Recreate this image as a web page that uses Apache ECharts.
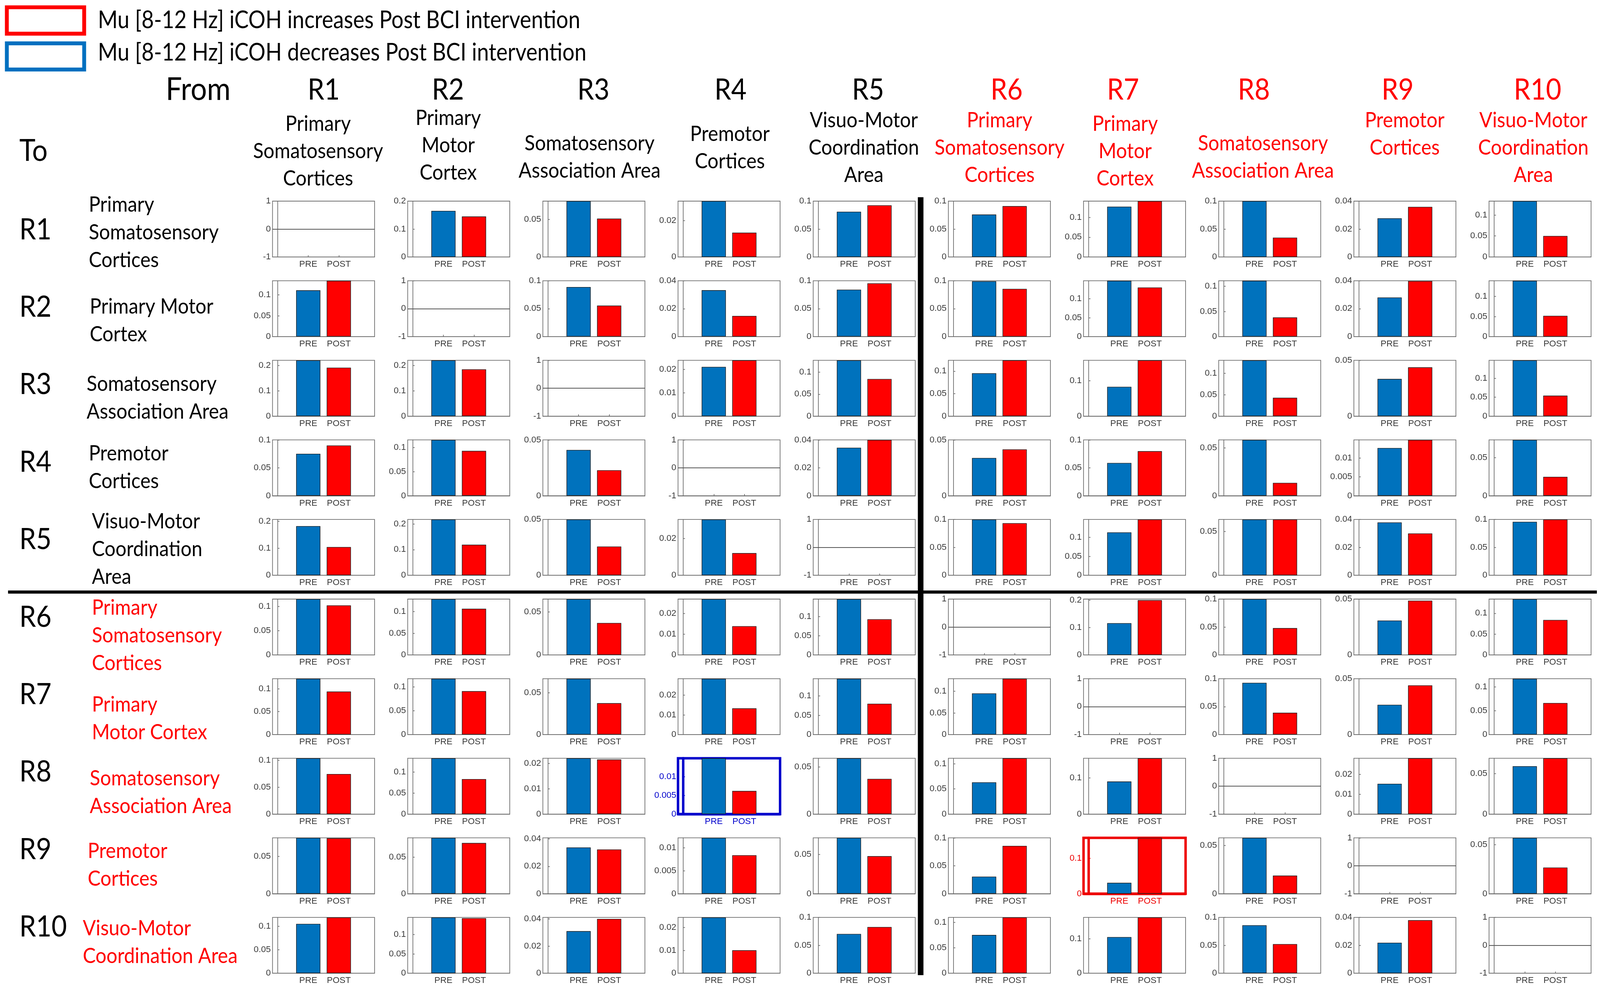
<!DOCTYPE html>
<html style="height:100%;width:100%">
<head>
<meta charset="utf-8">
<style>
html, body { margin: 0; padding: 0; width: 100%; height: 100%; background: #fff; overflow: hidden; }
#chart-panel { width: 100%; height: 100%; }
</style>
<script src="https://cdn.jsdelivr.net/npm/echarts@6/dist/echarts.min.js"></script>
</head>
<body>
<div id="chart-panel"></div>
<script type="text/javascript">
// ---- data ----
var regions = ['R1', 'R2', 'R3', 'R4', 'R5', 'R6', 'R7', 'R8', 'R9', 'R10'];
var colNames = [
  'Primary\nSomatosensory\nCortices', 'Primary\nMotor\nCortex', 'Somatosensory\nAssociation Area',
  'Premotor\nCortices', 'Visuo-Motor\nCoordination\nArea', 'Primary\nSomatosensory\nCortices',
  'Primary\nMotor\nCortex', 'Somatosensory\nAssociation Area', 'Premotor\nCortices',
  'Visuo-Motor\nCoordination\nArea'
];
var rowNames = [
  'Primary\nSomatosensory\nCortices', 'Primary Motor\nCortex', 'Somatosensory\nAssociation Area',
  'Premotor\nCortices', 'Visuo-Motor\nCoordination\nArea', 'Primary\nSomatosensory\nCortices',
  'Primary\nMotor Cortex', 'Somatosensory\nAssociation Area', 'Premotor\nCortices',
  'Visuo-Motor\nCoordination Area'
];
var barLabels = ['PRE', 'POST'];
var legendTexts = ['Mu [8-12 Hz] iCOH increases Post BCI intervention',
                   'Mu [8-12 Hz] iCOH decreases Post BCI intervention'];

// rows = "To" region, columns = "From" region, null = diagonal (no bars)
var preVals = [
  [null, 0.165, 0.0743, 0.0308, 0.081, 0.076, 0.127, 0.100, 0.0277, 0.133],
  [0.111, null, 0.0887, 0.0332, 0.084, 0.099, 0.148, 0.111, 0.028, 0.139],
  [0.22, 0.22, null, 0.021, 0.127, 0.0953, 0.083, 0.1307, 0.0333, 0.147],
  [0.0751, 0.1158, 0.041, null, 0.0344, 0.0338, 0.0587, 0.0585, 0.01264, 0.073],
  [0.1825, 0.217, 0.05, 0.0304, null, 0.1, 0.113, 0.0634, 0.0379, 0.0958],
  [0.115, 0.129, 0.0647, 0.027, 0.145, null, 0.116, 0.1, 0.0308, 0.134],
  [0.122, 0.117, 0.067, 0.0284, 0.145, 0.095, null, 0.0926, 0.0266, 0.117],
  [0.104, 0.133, 0.0221, 0.01486, 0.0593, 0.063, 0.09, null, 0.0153, 0.0592],
  [0.075, 0.076, 0.0338, 0.0122, 0.071, 0.0306, 0.0307, 0.058, null, 0.057],
  [0.105, 0.144, 0.031, 0.0243, 0.0704, 0.0755, 0.1045, 0.086, 0.0219, null]
];
var postVals = [
  [null, 0.145, 0.051, 0.0134, 0.0925, 0.091, 0.141, 0.0346, 0.0359, 0.050],
  [0.134, null, 0.0554, 0.0148, 0.0953, 0.0854, 0.130, 0.038, 0.0398, 0.0516],
  [0.191, 0.1845, null, 0.0238, 0.0845, 0.124, 0.158, 0.043, 0.0437, 0.054],
  [0.090, 0.093, 0.0228, null, 0.040, 0.0415, 0.0798, 0.0135, 0.0148, 0.0247],
  [0.105, 0.119, 0.0258, 0.0121, null, 0.0934, 0.147, 0.0634, 0.030, 0.100],
  [0.102, 0.1066, 0.037, 0.0139, 0.0926, null, 0.200, 0.048, 0.0486, 0.0839],
  [0.0938, 0.0908, 0.0376, 0.0133, 0.080, 0.129, null, 0.039, 0.044, 0.066],
  [0.0746, 0.0834, 0.0216, 0.00616, 0.0374, 0.1107, 0.154, null, 0.0282, 0.069],
  [0.0745, 0.069, 0.0323, 0.0084, 0.0477, 0.0856, 0.158, 0.0188, null, 0.0267],
  [0.1187, 0.142, 0.040, 0.010, 0.0829, 0.110, 0.161, 0.0523, 0.038, null]
];
// y axis top and tick step of each small plot (diagonal: -1..1)
var yMax = [
  [1, 0.2, 0.0743, 0.0308, 0.1, 0.1, 0.141, 0.1, 0.04, 0.133],
  [0.134, 1, 0.1, 0.04, 0.1, 0.1, 0.148, 0.111, 0.04, 0.139],
  [0.22, 0.22, 1, 0.0238, 0.127, 0.124, 0.158, 0.1307, 0.05, 0.147],
  [0.1, 0.1158, 0.05, 1, 0.04, 0.05, 0.1, 0.0585, 0.0148, 0.073],
  [0.207, 0.217, 0.05, 0.0304, 1, 0.1, 0.147, 0.0634, 0.04, 0.1],
  [0.115, 0.129, 0.0647, 0.027, 0.145, 1, 0.204, 0.1, 0.05, 0.134],
  [0.122, 0.117, 0.067, 0.0284, 0.145, 0.129, 1, 0.1, 0.05, 0.117],
  [0.104, 0.133, 0.0221, 0.01486, 0.0593, 0.1107, 0.154, 1, 0.0282, 0.069],
  [0.075, 0.076, 0.0408, 0.0122, 0.071, 0.1, 0.158, 0.058, 1, 0.057],
  [0.1187, 0.144, 0.0411, 0.0243, 0.1, 0.110, 0.161, 0.1, 0.04, 1]
];
var yStep = [
  [1, 0.1, 0.05, 0.02, 0.05, 0.05, 0.05, 0.05, 0.02, 0.05],
  [0.05, 1, 0.05, 0.02, 0.05, 0.05, 0.05, 0.05, 0.02, 0.05],
  [0.1, 0.1, 1, 0.01, 0.05, 0.05, 0.1, 0.05, 0.05, 0.05],
  [0.05, 0.05, 0.05, 1, 0.02, 0.05, 0.05, 0.05, 0.005, 0.05],
  [0.1, 0.1, 0.05, 0.02, 1, 0.05, 0.05, 0.05, 0.02, 0.05],
  [0.05, 0.05, 0.05, 0.01, 0.05, 1, 0.1, 0.05, 0.05, 0.05],
  [0.05, 0.05, 0.05, 0.01, 0.05, 0.05, 1, 0.05, 0.05, 0.05],
  [0.05, 0.05, 0.01, 0.005, 0.05, 0.05, 0.1, 1, 0.01, 0.05],
  [0.05, 0.05, 0.02, 0.005, 0.05, 0.05, 0.1, 0.05, 1, 0.05],
  [0.05, 0.05, 0.02, 0.01, 0.05, 0.05, 0.1, 0.05, 0.02, 1]
];

// ---- layout / style (designed on a 4562 x 2535 canvas, scaled to the real size) ----
var dom = document.getElementById('chart-panel');
var myChart = echarts.init(dom);
var sx = dom.clientWidth / 4562, sy = dom.clientHeight / 2535, sm = Math.min(sx, sy);
function X(v) { return v * sx; }
function Y(v) { return v * sy; }
function S(v) { return v * sm; }

var CELL_W = 291, CELL_H = 143;
var HEAD_FONT = 'Lato';
var headX = [923, 1277, 1692, 2083, 2475, 2870, 3202, 3575, 3985, 4384];
var subX = [907, 1278, 1681, 2081, 2463, 2850, 3208, 3601, 4005, 4372];
var subY = [317, 302, 367, 343, 308, 308, 317, 367, 308, 308];
var rowNameX = [253, 256, 247, 253, 262, 262, 262, 256, 250, 236];
var rowNameY = [524, 785, 983, 1161, 1335, 1556, 1804, 1993, 2179, 2377];
var highlight = { '7,3': '#0000cc', '8,6': '#ee0000' };

var grids = [], xAxes = [], yAxes = [], series = [];
for (var r = 0; r < 10; r++) {
  for (var c = 0; c < 10; c++) {
    var idx = r * 10 + c;
    var hl = highlight[r + ',' + c];
    var frame = hl || '#707070';
    var txt = hl || '#3a3a3a';
    var lw = S(hl ? 7 : 2);
    var diag = preVals[r][c] === null;
    var lo = diag ? -yMax[r][c] : 0;
    var ticks = [];
    for (var k = 0; lo + k * yStep[r][c] <= yMax[r][c] + 1e-9; k++) {
      ticks.push(+(lo + k * yStep[r][c]).toFixed(4));
    }
    grids.push({
      left: X(777 + c * 385.4), top: Y(515 + r * 203.8), width: X(CELL_W), height: Y(CELL_H),
      show: true, borderColor: frame, borderWidth: lw, backgroundColor: '#fff'
    });
    xAxes.push({
      gridIndex: idx, type: 'value', min: -0.17, max: 3.17,
      axisLine: { show: true, onZero: false, lineStyle: { color: frame, width: lw } },
      axisTick: { show: true, inside: true, length: S(5), customValues: [1, 2], lineStyle: { color: frame, width: S(2) } },
      axisLabel: {
        customValues: [1, 2], color: txt, fontSize: S(25), fontFamily: 'Liberation Sans', margin: S(9),
        formatter: function (v) { return barLabels[Math.round(v) - 1] || ''; }
      },
      splitLine: { show: false }
    });
    yAxes.push({
      gridIndex: idx, type: 'value', min: lo, max: yMax[r][c],
      axisLine: { show: true, lineStyle: { color: frame, width: lw } },
      axisTick: { show: true, inside: true, length: S(5), customValues: ticks, lineStyle: { color: frame, width: S(2) } },
      axisLabel: {
        customValues: ticks, color: txt, fontSize: S(25), fontFamily: 'Liberation Sans', margin: S(5),
        formatter: function (v) { return String(+v.toFixed(4)); }
      },
      splitLine: { show: false }
    });
    var s = {
      type: 'bar', xAxisIndex: idx, yAxisIndex: idx, barWidth: X(69), silent: true, animation: false,
      itemStyle: { borderColor: '#1a1a1a', borderWidth: S(1.5) },
      data: diag ? [] : [
        { value: [1, preVals[r][c]], itemStyle: { color: '#0072BD' } },
        { value: [2, postVals[r][c]], itemStyle: { color: '#FF0000' } }
      ]
    };
    if (diag) {
      s.markLine = {
        silent: true, symbol: 'none', label: { show: false },
        lineStyle: { color: '#555', width: S(2), type: 'solid' },
        data: [{ yAxis: 0 }]
      };
    }
    series.push(s);
  }
}

// text is laid out in design units and stretched to the real canvas
function txtEl(x, y, text, size, color, align, vAlign, lineHeight) {
  return {
    type: 'text', x: X(x), y: Y(y), scaleX: sx, scaleY: sy, z: 10,
    style: {
      text: text, fill: color, fontSize: size, fontFamily: HEAD_FONT,
      align: align, verticalAlign: vAlign, textAlign: align, textVerticalAlign: vAlign,
      lineHeight: lineHeight || size * 1.2
    }
  };
}
function rectEl(x, y, w, h, style, z) {
  return { type: 'rect', z: z || 5, shape: { x: X(x), y: Y(y), width: X(w), height: Y(h) }, style: style };
}

var elements = [
  rectEl(19.5, 18.6, 220.5, 67.6, { fill: '#fff', stroke: '#ff0000', lineWidth: S(11) }),
  rectEl(19.5, 111, 220.5, 67, { fill: '#fff', stroke: '#0070c0', lineWidth: S(11) }),
  txtEl(279, 52, legendTexts[0], 61, '#000', 'left', 'middle'),
  txtEl(279, 135, legendTexts[1], 61, '#000', 'left', 'middle'),
  txtEl(565, 230, 'From', 82, '#000', 'center', 'middle'),
  txtEl(55, 387, 'To', 78, '#000', 'left', 'middle'),
  // dividing lines between the two hemispheres
  rectEl(2617, 505, 16, 1992, { fill: '#000' }, 20),
  rectEl(23, 1512, 4530, 8, { fill: '#000' }, 20)
];
for (var i = 0; i < 10; i++) {
  var col = i < 5 ? '#000' : '#ff0000';
  elements.push(txtEl(headX[i], 230, regions[i], 76, col, 'center', 'middle'));
  elements.push(txtEl(subX[i], subY[i] - 35, colNames[i], 55, col, 'center', 'top', 70));
  elements.push(txtEl(55, 588 + i * 198.4, regions[i], 76, '#000', 'left', 'middle'));
  elements.push(txtEl(rowNameX[i], rowNameY[i] - 35, rowNames[i], 55, col, 'left', 'top', 71));
}

option = {
  backgroundColor: '#fff',
  animation: false,
  grid: grids,
  xAxis: xAxes,
  yAxis: yAxes,
  series: series,
  graphic: { elements: elements }
};
myChart.setOption(option);
</script>
</body>
</html>
